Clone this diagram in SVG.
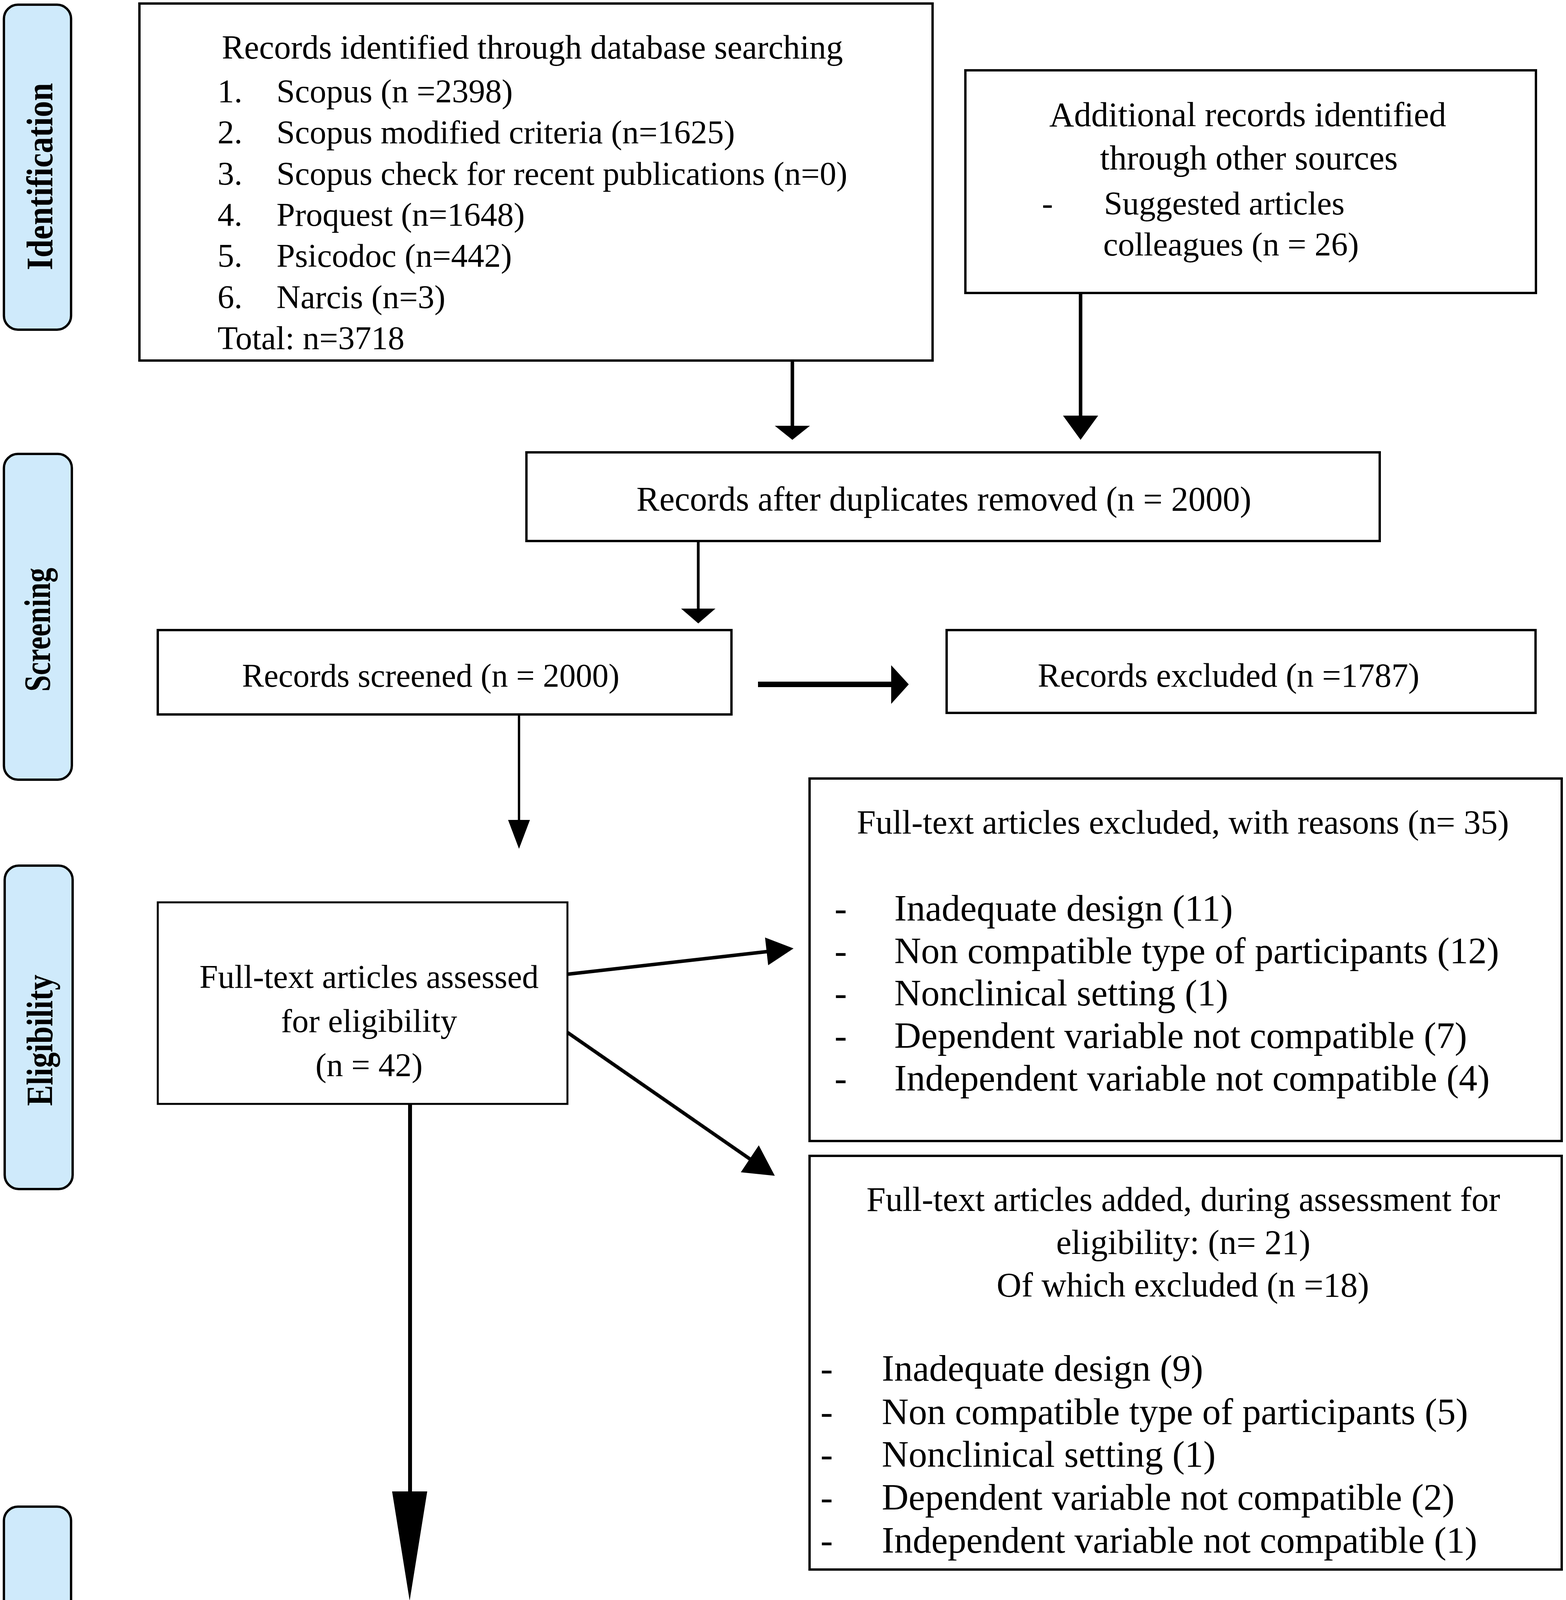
<svg xmlns="http://www.w3.org/2000/svg" width="4010" height="4697" viewBox="0 0 4010 4697">
<style>
.box{fill:#ffffff;stroke:#000000;stroke-width:6}
.thin{stroke-width:5}
.lab{fill:#cfeafb;stroke:#000000;stroke-width:6}
.t{font-family:"Liberation Serif","Times New Roman",serif;fill:#000000}
.c{text-anchor:middle}
.lt{font-family:"Liberation Serif","Times New Roman",serif;font-weight:bold;font-size:96px;fill:#000000;text-anchor:middle}
.ln{stroke:#000000;fill:none}
.ah{fill:#000000;stroke:none}
</style>
<rect x="0" y="0" width="4010" height="4697" fill="#ffffff"/>

<g id="stage-identification">
<rect class="lab" x="10" y="12" width="172" height="832" rx="36"/>
<text class="lt" transform="translate(134,452) rotate(-90)" x="0" y="0" textLength="479" lengthAdjust="spacingAndGlyphs">Identification</text>
</g>
<g id="stage-screening">
<rect class="lab" x="10" y="1162" width="174" height="834" rx="36"/>
<text class="lt" transform="translate(128,1612) rotate(-90)" x="0" y="0" textLength="317" lengthAdjust="spacingAndGlyphs">Screening</text>
</g>
<g id="stage-eligibility">
<rect class="lab" x="12" y="2216" width="174" height="828" rx="36"/>
<text class="lt" transform="translate(134,2663) rotate(-90)" x="0" y="0" textLength="336" lengthAdjust="spacingAndGlyphs">Eligibility</text>
</g>
<g id="stage-included">
<rect class="lab" x="10" y="3857" width="172" height="833" rx="36"/>
<text class="lt" transform="translate(134,4266) rotate(-90)" x="0" y="0" textLength="301" lengthAdjust="spacingAndGlyphs">Included</text>
</g>

<g id="node-database">
<rect class="box" x="357" y="9" width="2031" height="914"/>
<text class="t" font-size="86" x="568" y="150">Records identified through database searching</text>
<g font-size="85">
<text class="t" x="557" y="262">1.</text><text class="t" x="708" y="262">Scopus (n =2398)</text>
<text class="t" x="557" y="367">2.</text><text class="t" x="708" y="367">Scopus modified criteria (n=1625)</text>
<text class="t" x="557" y="473">3.</text><text class="t" x="708" y="473">Scopus check for recent publications (n=0)</text>
<text class="t" x="557" y="578">4.</text><text class="t" x="708" y="578">Proquest (n=1648)</text>
<text class="t" x="557" y="683">5.</text><text class="t" x="708" y="683">Psicodoc (n=442)</text>
<text class="t" x="557" y="789">6.</text><text class="t" x="708" y="789">Narcis (n=3)</text>
<text class="t" x="557" y="894">Total: n=3718</text>
</g>
</g>

<g id="node-other-sources">
<rect class="box" x="2472" y="180" width="1461" height="570"/>
<text class="t c" font-size="88" x="3195" y="323">Additional records identified</text>
<text class="t c" font-size="88" x="3198" y="434">through other sources</text>
<text class="t" font-size="85" x="2668" y="549">-</text>
<text class="t" font-size="85" x="2827" y="549">Suggested articles</text>
<text class="t" font-size="85" x="2825" y="654">colleagues (n = 26)</text>
</g>

<g id="node-duplicates">
<rect class="box" x="1348" y="1158" width="2185" height="227"/>
<text class="t c" font-size="88" x="2417" y="1307">Records after duplicates removed (n = 2000)</text>
</g>

<g id="node-screened">
<rect class="box" x="404" y="1613" width="1469" height="216"/>
<text class="t c" font-size="84" x="1103" y="1758">Records screened (n = 2000)</text>
</g>

<g id="node-excluded">
<rect class="box" x="2424" y="1613" width="1508" height="212"/>
<text class="t c" font-size="86" x="3146" y="1758">Records excluded (n =1787)</text>
</g>

<g id="node-assessed">
<rect class="box thin" x="404" y="2310" width="1049" height="516"/>
<text class="t c" font-size="85" x="945" y="2529">Full-text articles assessed</text>
<text class="t c" font-size="85" x="945" y="2642">for eligibility</text>
<text class="t c" font-size="85" x="945" y="2755">(n = 42)</text>
</g>

<g id="node-fulltext-excluded">
<rect class="box" x="2073" y="1993" width="1926" height="928"/>
<text class="t c" font-size="87" x="3029" y="2134">Full-text articles excluded, with reasons (n= 35)</text>
<g font-size="95">
<text class="t" x="2137" y="2357">-</text><text class="t" x="2290" y="2357">Inadequate design (11)</text>
<text class="t" x="2137" y="2466">-</text><text class="t" x="2290" y="2466">Non compatible type of participants (12)</text>
<text class="t" x="2137" y="2574">-</text><text class="t" x="2290" y="2574">Nonclinical setting (1)</text>
<text class="t" x="2137" y="2683">-</text><text class="t" x="2290" y="2683">Dependent variable not compatible (7)</text>
<text class="t" x="2137" y="2792">-</text><text class="t" x="2290" y="2792">Independent variable not compatible (4)</text>
</g>
</g>

<g id="node-fulltext-added">
<rect class="box" x="2073" y="2959" width="1926" height="1059"/>
<text class="t c" font-size="88" x="3030" y="3100">Full-text articles added, during assessment for</text>
<text class="t c" font-size="88" x="3030" y="3210">eligibility: (n= 21)</text>
<text class="t c" font-size="88" x="3029" y="3319">Of which excluded (n =18)</text>
<g font-size="95">
<text class="t" x="2101" y="3535">-</text><text class="t" x="2258" y="3535">Inadequate design (9)</text>
<text class="t" x="2101" y="3646">-</text><text class="t" x="2258" y="3646">Non compatible type of participants (5)</text>
<text class="t" x="2101" y="3755">-</text><text class="t" x="2258" y="3755">Nonclinical setting (1)</text>
<text class="t" x="2101" y="3865">-</text><text class="t" x="2258" y="3865">Dependent variable not compatible (2)</text>
<text class="t" x="2101" y="3975">-</text><text class="t" x="2258" y="3975">Independent variable not compatible (1)</text>
</g>
</g>

<g id="node-included">
<rect class="box thin" x="439" y="4099" width="1434" height="369"/>
<text class="t c" font-size="85" x="1149" y="4244">Studies included in qualitative</text>
<text class="t c" font-size="85" x="1149" y="4358">synthesis (n = 10)</text>
</g>

<g id="connectors">
<line class="ln" stroke-width="9" x1="2029" y1="923" x2="2029" y2="1092"/>
<polygon class="ah" points="1984,1090 2074,1090 2029,1126"/>
<line class="ln" stroke-width="9" x1="2767" y1="750" x2="2767" y2="1066"/>
<polygon class="ah" points="2722,1064 2812,1064 2767,1126"/>
<line class="ln" stroke-width="7" x1="1788" y1="1385" x2="1788" y2="1560"/>
<polygon class="ah" points="1744,1558 1832,1558 1788,1596"/>
<line class="ln" stroke-width="14" x1="1941" y1="1752" x2="2284" y2="1752"/>
<polygon class="ah" points="2282,1703 2327,1752 2282,1802"/>
<line class="ln" stroke-width="6" x1="1329" y1="1829" x2="1329" y2="2101"/>
<polygon class="ah" points="1301,2099 1357,2099 1329,2173"/>
<line class="ln" stroke-width="9" x1="1453" y1="2494" x2="1965" y2="2436"/>
<polygon class="ah" points="1959,2400 2032,2428 1967,2471"/>
<line class="ln" stroke-width="9" x1="1453" y1="2643" x2="1926" y2="2971"/>
<polygon class="ah" points="1943,2932 1984,3010 1897,3001"/>
<line class="ln" stroke-width="10" x1="1050" y1="2826" x2="1050" y2="3820"/>
<polygon class="ah" points="1004,3818 1094,3818 1049,4098"/>
</g>
</svg>
